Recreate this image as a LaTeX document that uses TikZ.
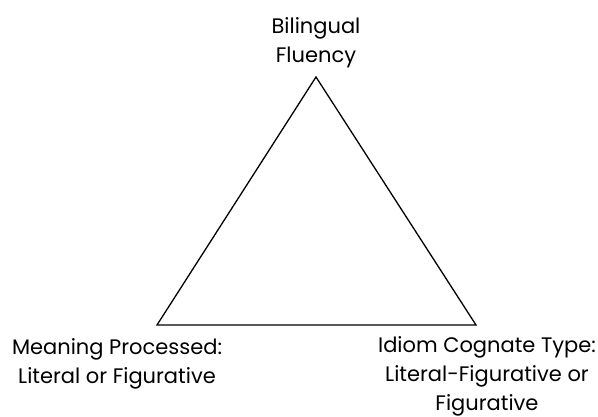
\documentclass[tikz,border=0pt]{standalone}
\usepackage{fontspec}
\setmainfont{Poppins}
\begin{document}
\begin{tikzpicture}[x=1pt,y=-1pt,
  lbl/.style={align=center,font=\fontsize{21}{29}\selectfont,inner sep=0pt},
  edge/.style={line width=1.3pt,line join=miter}]
\useasboundingbox (0,0) rectangle (598,417);
\coordinate (t) at (316,77);
\coordinate (l) at (157,325);
\coordinate (r) at (476,325);
\draw[edge] (t) -- (l) -- (r) -- cycle;
\node[lbl,anchor=base] (top) at (316,63) {Bilingual\\Fluency};
\node[lbl,anchor=base] (left) at (117,384) {Meaning Processed:\\Literal or Figurative};
\node[lbl,anchor=base] (right) at (487,410) {Idiom Cognate Type:\\Literal-Figurative or\\Figurative};
\end{tikzpicture}
\end{document}
